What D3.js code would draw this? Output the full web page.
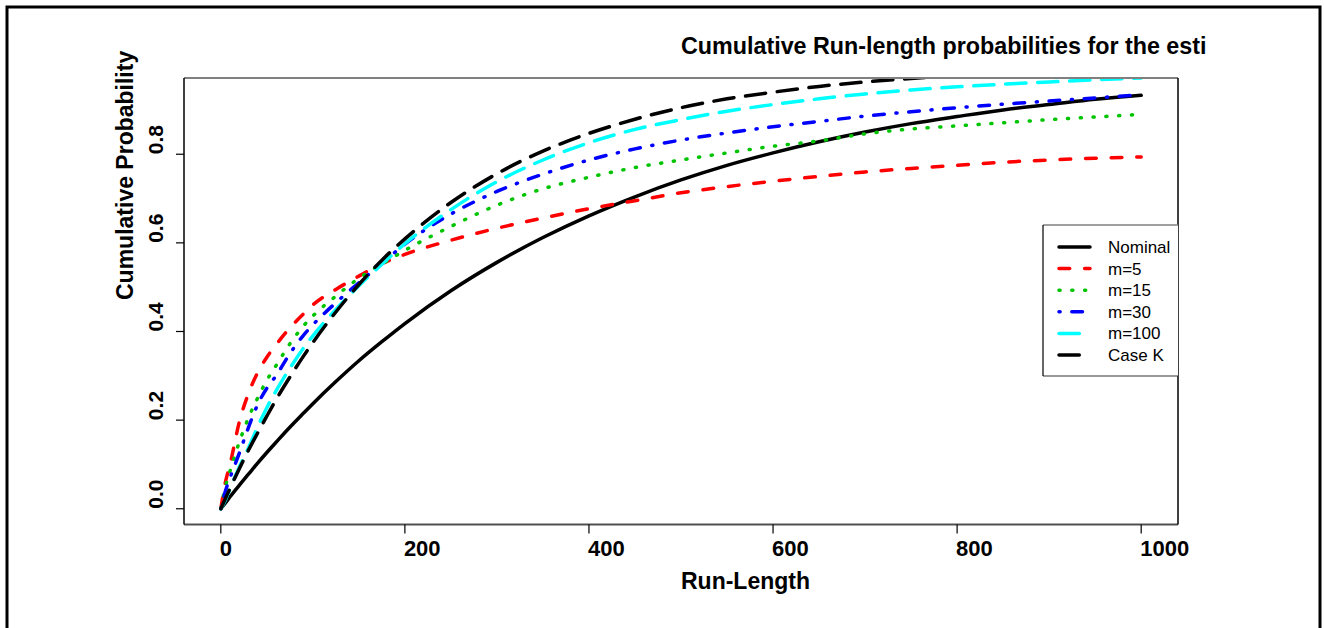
<!DOCTYPE html>
<html>
<head>
<meta charset="utf-8">
<script src="https://cdn.jsdelivr.net/npm/d3@7"></script>
<style>
  html, body { margin: 0; padding: 0; background: #fff; }
  svg { display: block; }
  text { font-family: "Liberation Sans", Arial, sans-serif; }
</style>
</head>
<body>
<svg id="chart" width="1324" height="628"></svg>
<script>
// ---- data ----
const runLength = [0,5,10,20,30,40,50,60,75,90,100,125,150,175,200,250,300,350,400,450,500,550,600,650,700,750,800,850,900,950,1000];
const nominal = [0,0.013,0.027,0.053,0.078,0.103,0.127,0.150,0.184,0.216,0.237,0.287,0.334,0.377,0.418,0.492,0.556,0.612,0.661,0.704,0.742,0.775,0.803,0.828,0.850,0.869,0.885,0.900,0.912,0.924,0.933];
const m5 = [0,0.06,0.10,0.195,0.26,0.307,0.342,0.37,0.408,0.44,0.46,0.495,0.525,0.553,0.574,0.606,0.633,0.656,0.677,0.695,0.713,0.727,0.739,0.750,0.760,0.768,0.775,0.782,0.787,0.791,0.794];
const m15 = [0,0.05,0.085,0.15,0.205,0.25,0.29,0.323,0.372,0.413,0.435,0.48,0.52,0.552,0.583,0.637,0.685,0.722,0.748,0.77,0.787,0.803,0.818,0.830,0.846,0.857,0.864,0.871,0.878,0.884,0.89];
const m30 = [0,0.04,0.07,0.125,0.183,0.235,0.272,0.30,0.35,0.392,0.415,0.465,0.51,0.554,0.597,0.665,0.716,0.755,0.787,0.812,0.832,0.848,0.862,0.874,0.886,0.896,0.905,0.913,0.920,0.927,0.934];
const m100 = [0,0.02,0.045,0.094,0.137,0.185,0.228,0.266,0.317,0.363,0.39,0.45,0.503,0.552,0.598,0.675,0.738,0.787,0.826,0.856,0.878,0.897,0.912,0.925,0.936,0.945,0.952,0.958,0.963,0.968,0.972];
const caseK = [0,0.023,0.046,0.090,0.132,0.171,0.209,0.246,0.297,0.345,0.375,0.444,0.506,0.561,0.609,0.691,0.756,0.807,0.847,0.879,0.905,0.925,0.940,0.953,0.963,0.971,0.977,0.982,0.985,0.989,0.991];

const seriesNames = ["Nominal","m=5","m=15","m=30","m=100","Case K"];
const seriesValues = [nominal, m5, m15, m30, m100, caseK];
const seriesColors = ["#000000","#ff0000","#00c400","#0000ff","#00ffff","#000000"];
const seriesLty = [null, [4,4], [1,3], [1,3,4,3], [7,3], [7,3]];

const xTicks = [0,200,400,600,800,1000];
const yTicks = [0.0,0.2,0.4,0.6,0.8];
const yTickLabels = ["0.0","0.2","0.4","0.6","0.8"];

const titleText = "Cumulative Run-length probabilities for the esti";
const xLabel = "Run-Length";
const yLabel = "Cumulative Probability";

// ---- layout ----
const svg = d3.select("#chart");
const box = {left: 184, right: 1178, top: 78, bottom: 524.5};
const x = d3.scaleLinear().domain([-40, 1040]).range([box.left, box.right]);
const y = d3.scaleLinear().domain([-0.0355, 0.972]).range([box.bottom, box.top]);

const LW = 3.5, U = 3.2;
function dash(p) {
  if (!p) return null;
  return p.map((v, i) => i % 2 === 0 ? Math.max(0.01, v * U - LW * 0.6) : v * U + LW * 0.6).join(",");
}

// outer frame
svg.append("path")
  .attr("d", "M7,640 L7,7 L1320,7 L1320,640")
  .attr("fill", "none").attr("stroke", "#000").attr("stroke-width", 3);

// clip
svg.append("defs").append("clipPath").attr("id", "plotClip")
  .append("rect").attr("x", box.left).attr("y", box.top)
  .attr("width", box.right - box.left).attr("height", box.bottom - box.top);

// series
const line = d3.line().x((d, i) => x(runLength[i])).y(d => y(d)).curve(d3.curveMonotoneX);
const g = svg.append("g").attr("clip-path", "url(#plotClip)");
seriesValues.forEach((vals, k) => {
  g.append("path")
    .attr("d", line(vals))
    .attr("fill", "none")
    .attr("stroke", seriesColors[k])
    .attr("stroke-width", LW)
    .attr("stroke-linecap", "round")
    .attr("stroke-linejoin", "round")
    .attr("stroke-dasharray", dash(seriesLty[k]));
});

// plot box
svg.append("line").attr("x1", box.left).attr("x2", box.right).attr("y1", box.top).attr("y2", box.top)
  .attr("stroke", "#808080").attr("stroke-width", 2);
svg.append("line").attr("x1", box.left).attr("x2", box.right).attr("y1", box.bottom).attr("y2", box.bottom)
  .attr("stroke", "#505050").attr("stroke-width", 2);
svg.append("line").attr("x1", box.left).attr("x2", box.left).attr("y1", box.top).attr("y2", box.bottom)
  .attr("stroke", "#000").attr("stroke-width", 1.5);
svg.append("line").attr("x1", box.right).attr("x2", box.right).attr("y1", box.top).attr("y2", box.bottom)
  .attr("stroke", "#000").attr("stroke-width", 1.5);

// x axis ticks and labels
xTicks.forEach(t => {
  svg.append("line").attr("x1", x(t)).attr("x2", x(t)).attr("y1", box.bottom).attr("y2", box.bottom + 9)
    .attr("stroke", "#000").attr("stroke-width", 1.2);
  svg.append("text").attr("x", x(t) - 1).attr("y", 556)
    .attr("font-size", 22).attr("font-weight", "bold").attr("text-anchor", "start").text(d3.format("d")(t));
});
// y axis ticks and labels
yTicks.forEach((t, i) => {
  svg.append("line").attr("x1", box.left - 8).attr("x2", box.left).attr("y1", y(t)).attr("y2", y(t))
    .attr("stroke", "#000").attr("stroke-width", 1.2);
  svg.append("text").attr("transform", `translate(163,${y(t)}) rotate(-90)`)
    .attr("font-size", 21).attr("font-weight", "bold").attr("text-anchor", "start").text(yTickLabels[i]);
});

// axis titles
svg.append("text").attr("x", 681).attr("y", 589).attr("font-size", 23).attr("font-weight", "bold").text(xLabel);
svg.append("text").attr("transform", "translate(133,300) rotate(-90)")
  .attr("font-size", 23).attr("font-weight", "bold").text(yLabel);

// title
svg.append("text").attr("x", 681).attr("y", 54).attr("font-size", 23.3).attr("font-weight", "bold")
  .text(titleText);

// legend
const leg = svg.append("g");
leg.append("rect").attr("x", 1043).attr("y", 225).attr("width", 1178 - 1043).attr("height", 376 - 225)
  .attr("fill", "#fff").attr("stroke", "none");
leg.append("line").attr("x1", 1043).attr("x2", 1178).attr("y1", 225).attr("y2", 225).attr("stroke", "#808080").attr("stroke-width", 1.5);
leg.append("line").attr("x1", 1043).attr("x2", 1178).attr("y1", 376).attr("y2", 376).attr("stroke", "#333").attr("stroke-width", 1.2);
leg.append("line").attr("x1", 1043).attr("x2", 1043).attr("y1", 225).attr("y2", 376).attr("stroke", "#000").attr("stroke-width", 1.2);
seriesNames.forEach((name, k) => {
  const yy = 247 + k * 21.6;
  leg.append("line").attr("x1", 1059).attr("x2", 1090).attr("y1", yy).attr("y2", yy)
    .attr("stroke", seriesColors[k]).attr("stroke-width", LW)
    .attr("stroke-linecap", "round").attr("stroke-dasharray", dash(seriesLty[k]));
  leg.append("text").attr("x", 1108).attr("y", yy + 6).attr("font-size", 17).text(name);
});
</script>
</body>
</html>
